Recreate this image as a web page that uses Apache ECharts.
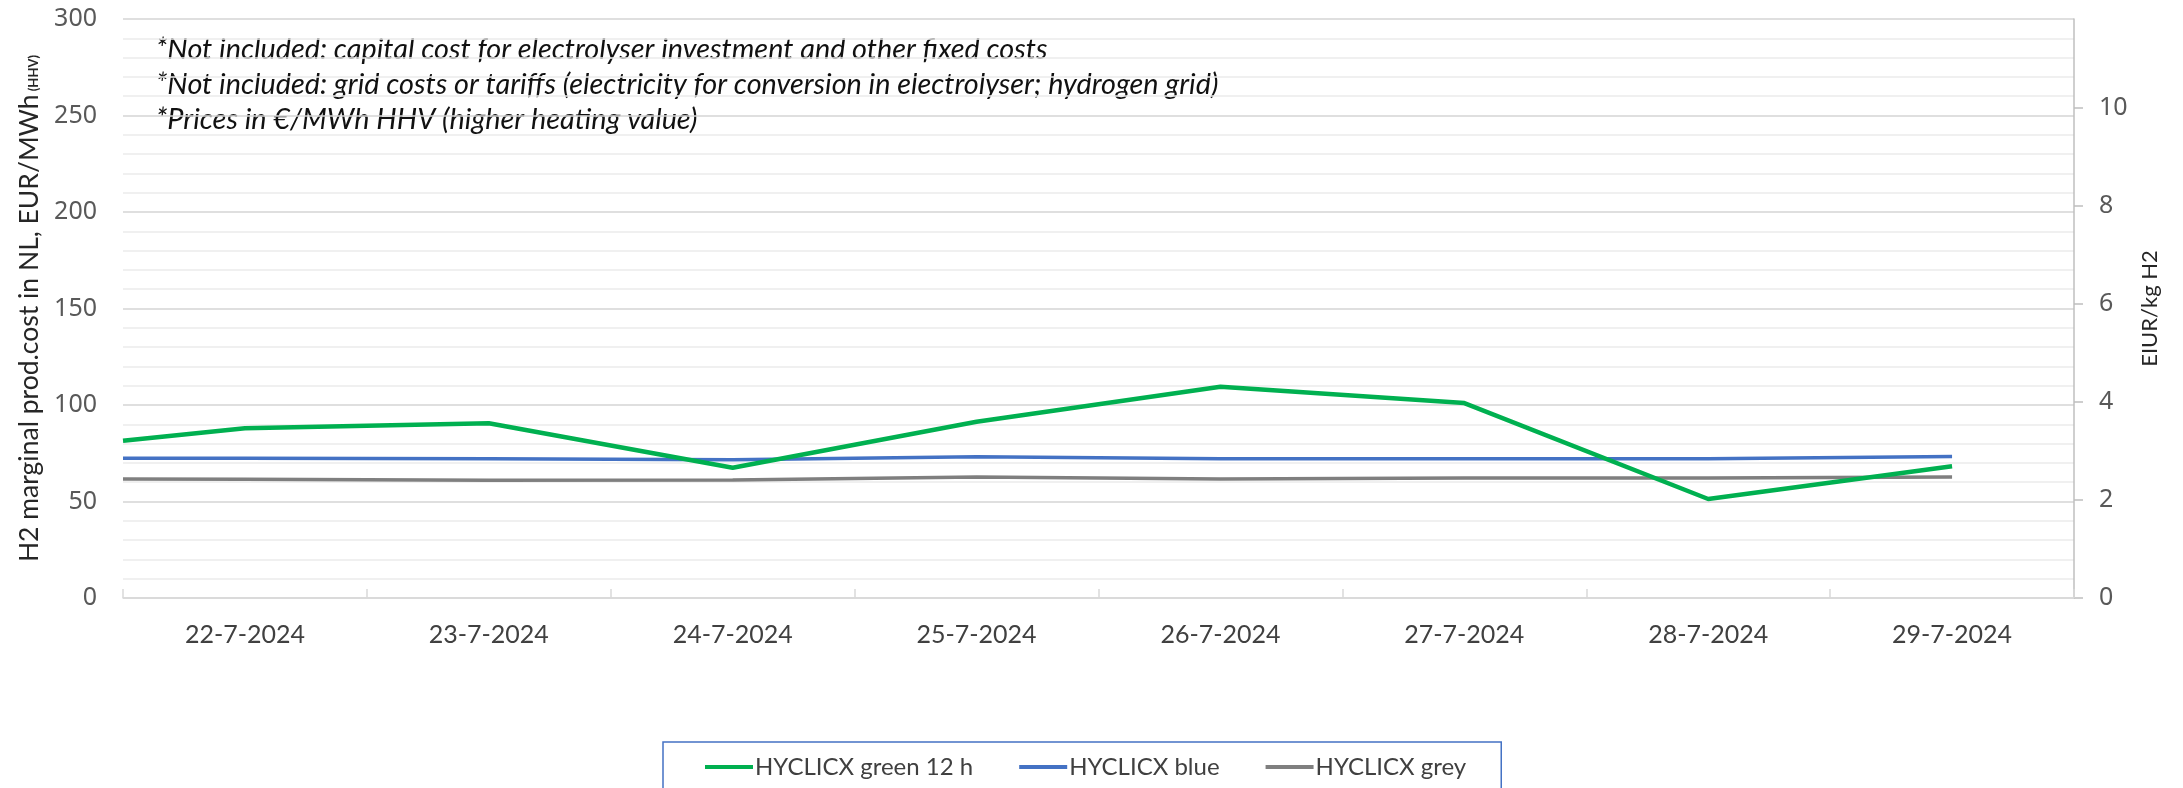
<!DOCTYPE html>
<html>
<head>
<meta charset="utf-8">
<script src="https://cdn.jsdelivr.net/npm/echarts@6/dist/echarts.min.js"></script>
<style>
  html, body { margin: 0; padding: 0; background: #fff; }
  #chart { width: 2183px; height: 788px; }
</style>
</head>
<body>
<div id="chart"></div>
<script>
// categories on the x axis
const days = ['22-7-2024', '23-7-2024', '24-7-2024', '25-7-2024', '26-7-2024', '27-7-2024', '28-7-2024', '29-7-2024'];

// value at the left edge of the plot, then one value per day (EUR/MWh HHV)
const greenStart = 81.5;
const green = [88.0, 90.5, 67.5, 91.3, 109.5, 101.0, 51.3, 68.3];
const blueStart = 72.4;
const blue = [72.4, 72.2, 71.6, 73.2, 72.2, 72.2, 72.2, 73.3];
const greyStart = 61.6;
const grey = [61.5, 61.0, 61.1, 62.7, 61.7, 62.2, 62.2, 62.7];

// left axis ticks, right axis ticks (EUR/kg H2)
const leftMax = 300;
const leftInterval = 50;
const mwhPerKg = 0.0394; // HHV of hydrogen, MWh per kg
const rightTicks = [0, 2, 4, 6, 8, 10];

const notes = [
  '*Not included: capital cost for electrolyser investment and other fixed costs',
  '*Not included: grid costs or tariffs (electricity for conversion in electrolyser; hydrogen grid)',
  '*Prices in €/MWh HHV (higher heating value)'
];

// first point sits on the plot edge, the rest in the middle of each day
function toPoints(start, vals) {
  return [[0, start]].concat(vals.map((v, i) => [i + 0.5, v]));
}

const chart = echarts.init(document.getElementById('chart'));

const option = {
  backgroundColor: '#fff',
  animation: false,
  grid: { left: 123, right: 109, top: 19, bottom: 190 },
  xAxis: [
    {
      type: 'category',
      data: days,
      boundaryGap: true,
      axisLine: { lineStyle: { color: '#D9D9D9', width: 1.5 } },
      axisTick: { show: true, inside: true, length: 9, interval: 0, lineStyle: { color: '#D9D9D9', width: 1.5 } },
      axisLabel: { interval: 0, margin: 24, fontFamily: 'Lato', fontSize: 25, color: '#404040' },
      splitLine: { show: false }
    },
    {
      type: 'value',
      min: 0,
      max: days.length,
      show: false
    }
  ],
  yAxis: [
    {
      type: 'value',
      min: 0,
      max: leftMax,
      interval: leftInterval,
      position: 'left',
      axisLine: { show: false },
      axisTick: { show: false },
      axisLabel: { margin: 26, fontFamily: 'Noto Sans', fontSize: 25, color: '#595959' },
      splitLine: { lineStyle: { color: '#D4D4D4', width: 1.5 } },
      minorTick: { show: false, splitNumber: 5 },
      minorSplitLine: { show: true, lineStyle: { color: '#EBEBEB', width: 1.5 } },
      name: '{a|H2 marginal prod.cost in NL, EUR/MWh}{b| (HHV)}',
      nameLocation: 'middle',
      nameRotate: 90,
      nameGap: 78,
      nameTextStyle: {
        rich: {
          a: { fontFamily: 'Lato', fontSize: 26.5, color: '#262626' },
          b: { fontFamily: 'Lato', fontSize: 13, fontWeight: 'bold', color: '#262626', padding: [8, 0, 0, 0] }
        }
      }
    },
    {
      type: 'value',
      min: 0,
      max: leftMax * mwhPerKg,
      position: 'right',
      axisLine: { show: true, lineStyle: { color: '#BFBFBF', width: 1.5 } },
      axisTick: { show: true, length: 9, customValues: rightTicks, lineStyle: { color: '#BFBFBF', width: 1.5 } },
      axisLabel: { margin: 25, customValues: rightTicks, fontFamily: 'Noto Sans', fontSize: 25, color: '#595959' },
      splitLine: { show: false },
      name: 'EIUR/kg H2',
      nameLocation: 'middle',
      nameRotate: 90,
      nameGap: 58,
      nameTextStyle: { fontFamily: 'Lato', fontSize: 22, color: '#262626' }
    }
  ],
  legend: {
    left: 663,
    top: 742,
    orient: 'horizontal',
    padding: [13, 35, 60, 42],
    borderColor: '#4472C4',
    borderWidth: 1.5,
    icon: 'rect',
    itemWidth: 48,
    itemHeight: 4,
    itemGap: 46,
    textStyle: { fontFamily: 'Lato', fontSize: 24, color: '#404040', padding: [0, 0, 0, -3] },
    data: ['HYCLICX green 12 h', 'HYCLICX blue', 'HYCLICX grey']
  },
  graphic: [
    {
      type: 'text',
      left: 156,
      top: 32,
      style: {
        text: notes.join('\n'),
        font: 'italic 28.8px Lato',
        lineHeight: 35,
        fill: '#111'
      }
    }
  ],
  series: [
    {
      name: 'HYCLICX green 12 h',
      type: 'line',
      xAxisIndex: 1,
      yAxisIndex: 0,
      symbol: 'none',
      data: toPoints(greenStart, green),
      lineStyle: { color: '#00B050', width: 4.5 },
      itemStyle: { color: '#00B050' },
      z: 4
    },
    {
      name: 'HYCLICX blue',
      type: 'line',
      xAxisIndex: 1,
      yAxisIndex: 0,
      symbol: 'none',
      data: toPoints(blueStart, blue),
      lineStyle: { color: '#4472C4', width: 3.5 },
      itemStyle: { color: '#4472C4' },
      z: 3
    },
    {
      name: 'HYCLICX grey',
      type: 'line',
      xAxisIndex: 1,
      yAxisIndex: 0,
      symbol: 'none',
      data: toPoints(greyStart, grey),
      lineStyle: { color: '#7F7F7F', width: 3.5 },
      itemStyle: { color: '#7F7F7F' },
      z: 2
    }
  ]
};

chart.setOption(option);
</script>
</body>
</html>
